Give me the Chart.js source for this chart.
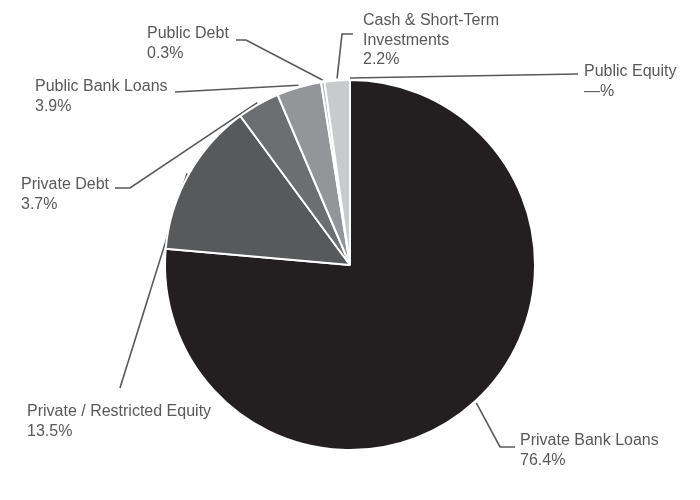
<!DOCTYPE html>
<html>
<head>
<meta charset="utf-8">
<script src="https://cdn.jsdelivr.net/npm/chart.js@4"></script>
<style>
  html, body { margin: 0; padding: 0; background: #ffffff; }
  #wrap { width: 700px; height: 500px; position: relative; }
</style>
</head>
<body>
<div id="wrap"><canvas id="c" width="700" height="500"></canvas></div>
<script>
// ---- data ----
const categories = [
  'Private Bank Loans',
  'Private / Restricted Equity',
  'Private Debt',
  'Public Bank Loans',
  'Public Debt',
  'Cash & Short-Term Investments',
  'Public Equity'
];
const shares = [76.4, 13.5, 3.7, 3.9, 0.3, 2.2, 0];
const sliceColors = ['#231f20', '#58595b', '#6d6e71', '#939598', '#b8babc', '#c9cacc', '#e0e1e2'];

// ---- label layout (annotation positions only) ----
const labelLines = [
  ['Private Bank Loans'],
  ['Private / Restricted Equity'],
  ['Private Debt'],
  ['Public Bank Loans'],
  ['Public Debt'],
  ['Cash & Short-Term', 'Investments'],
  ['Public Equity']
];
const labelAt = [[520, 445], [27, 416], [21, 189], [35, 91], [147, 38], [363, 25], [584, 76]];
const leaderPath = [
  [[515, 447], [500, 447]],
  [[120, 388]],
  [[115, 188], [130, 188]],
  [[175, 92]],
  [[236, 40], [246, 40]],
  [[353, 34], [342, 34]],
  [[578, 74]]
];

function pctText(v) { return v === 0 ? '\u2014%' : v.toFixed(1) + '%'; }

const leaders = {
  id: 'leaders',
  beforeDatasetsDraw(chart) {
    const ctx = chart.ctx;
    const meta = chart.getDatasetMeta(0);
    ctx.save();
    ctx.strokeStyle = '#58595b';
    ctx.lineWidth = 1.6;
    meta.data.forEach((arc, i) => {
      const p = arc.getProps(['x', 'y', 'startAngle', 'endAngle', 'outerRadius'], true);
      const mid = (p.startAngle + p.endAngle) / 2;
      const r = p.outerRadius + 2;
      const ax = p.x + Math.cos(mid) * r;
      const ay = p.y + Math.sin(mid) * r;
      const pts = leaderPath[i];
      ctx.beginPath();
      ctx.moveTo(pts[0][0], pts[0][1]);
      for (let k = 1; k < pts.length; k++) ctx.lineTo(pts[k][0], pts[k][1]);
      ctx.lineTo(ax, ay);
      ctx.stroke();
    });
    ctx.restore();
  },
  afterDraw(chart) {
    const ctx = chart.ctx;
    ctx.save();
    ctx.fillStyle = '#58595b';
    ctx.font = '16px "Liberation Sans", Arial, sans-serif';
    ctx.textAlign = 'left';
    ctx.textBaseline = 'alphabetic';
    const lh = 19.5;
    categories.forEach((c, i) => {
      const lines = labelLines[i].concat([pctText(shares[i])]);
      const [x, y] = labelAt[i];
      lines.forEach((t, k) => ctx.fillText(t, x, y + k * lh));
    });
    ctx.restore();
  }
};

new Chart(document.getElementById('c'), {
  type: 'pie',
  data: {
    labels: categories,
    datasets: [{
      data: shares,
      backgroundColor: sliceColors,
      borderColor: '#ffffff',
      borderWidth: 2
    }]
  },
  options: {
    responsive: false,
    animation: false,
    layout: { padding: { left: 164, right: 164, top: 79, bottom: 49 } },
    plugins: {
      legend: { display: false },
      tooltip: { enabled: false }
    }
  },
  plugins: [leaders]
});
</script>
</body>
</html>
